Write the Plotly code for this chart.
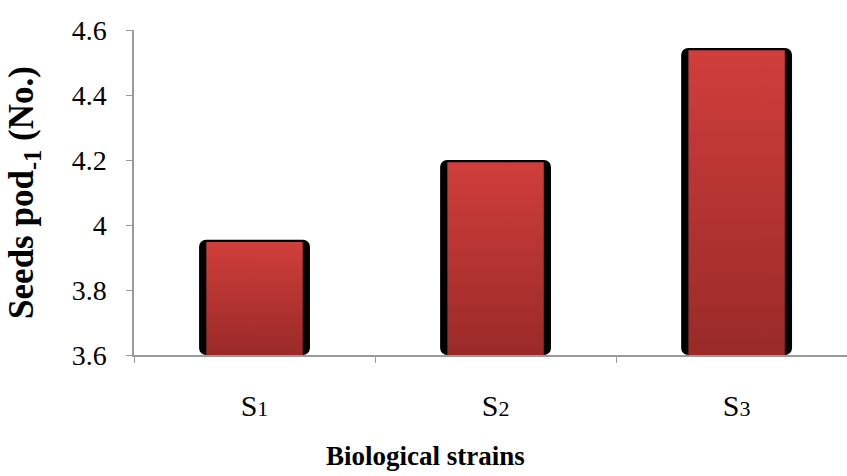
import plotly.graph_objects as go

# Seeds per pod for each biological strain
strains = ["S1", "S2", "S3"]
strain_labels = ["S<span style='font-size:22px'>1</span>",
                 "S<span style='font-size:22px'>2</span>",
                 "S<span style='font-size:22px'>3</span>"]
seeds_per_pod = [3.955, 4.20, 4.545]

y_min, y_max = 3.6, 4.6
y_ticks = [3.6, 3.8, 4.0, 4.2, 4.4, 4.6]
y_tick_text = ["3.6", "3.8", "4", "4.2", "4.4", "4.6"]

FONT = "Liberation Serif"
AXIS_GREY = "#9a9a9a"
RED_TOP = "#d03e3b"
RED_BOTTOM = "#992a28"

outer_w = 0.46    # black outline bar width (category units)
inner_w = 0.40    # gradient face width
top_gap = 0.007   # outline thickness above the face

xs = list(range(len(strains)))

fig = go.Figure()

# dark outline bars (rounded top corners) on the base axes
fig.add_trace(go.Bar(
    x=xs, y=[v - y_min for v in seeds_per_pod], base=y_min,
    width=outer_w, marker=dict(color="black", line=dict(width=0), cornerradius=7),
    showlegend=False, hoverinfo="skip",
))

# gradient faces on the overlaying axis so they sit above the outlines
for x, v in zip(xs, seeds_per_pod):
    h = inner_w / 2
    top = v - top_gap
    fig.add_trace(go.Scatter(
        x=[x - h, x - h, x + h, x + h, x - h],
        y=[y_min, top, top, y_min, y_min],
        mode="lines", fill="toself", line=dict(width=0),
        fillgradient=dict(type="vertical", start=y_min, stop=top,
                          colorscale=[[0, RED_BOTTOM], [1, RED_TOP]]),
        xaxis="x2", showlegend=False, hoverinfo="skip",
    ))

x_range = [-0.5, 2.458]

fig.update_layout(
    width=847, height=476,
    margin=dict(l=134, r=0, t=30, b=121),
    paper_bgcolor="white", plot_bgcolor="white",
    font=dict(family=FONT, color="black"),
    xaxis=dict(
        range=x_range, tickvals=[-0.5, 0.5, 1.5, 2.5], showticklabels=False,
        ticks="outside", ticklen=6, tickcolor=AXIS_GREY, tickwidth=1,
        showline=True, linecolor=AXIS_GREY, linewidth=1.5,
        showgrid=False, zeroline=False,
    ),
    xaxis2=dict(
        range=x_range, overlaying="x", side="bottom",
        tickvals=xs, ticktext=strain_labels, ticks="", showline=False,
        showgrid=False, zeroline=False, ticklabelstandoff=30,
        tickfont=dict(size=30, family=FONT),
    ),
    yaxis=dict(
        range=[y_min, y_max], tickvals=y_ticks, ticktext=y_tick_text,
        ticks="outside", ticklen=6, tickcolor=AXIS_GREY, tickwidth=1,
        showline=True, linecolor=AXIS_GREY, linewidth=1.5,
        showgrid=False, zeroline=False, ticklabelstandoff=14,
        tickfont=dict(size=28, family=FONT),
        title=dict(text="<b>Seeds pod<sub>-1</sub> (No.)</b>", font=dict(size=35, family=FONT), standoff=27),
    ),
    annotations=[dict(
        text="<b>Biological strains</b>", xref="paper", yref="paper",
        x=(425 - 134) / 713, y=-0.31, xanchor="center", yanchor="middle",
        showarrow=False, font=dict(size=27, family=FONT),
    )],
)

fig.write_html("out.html")
